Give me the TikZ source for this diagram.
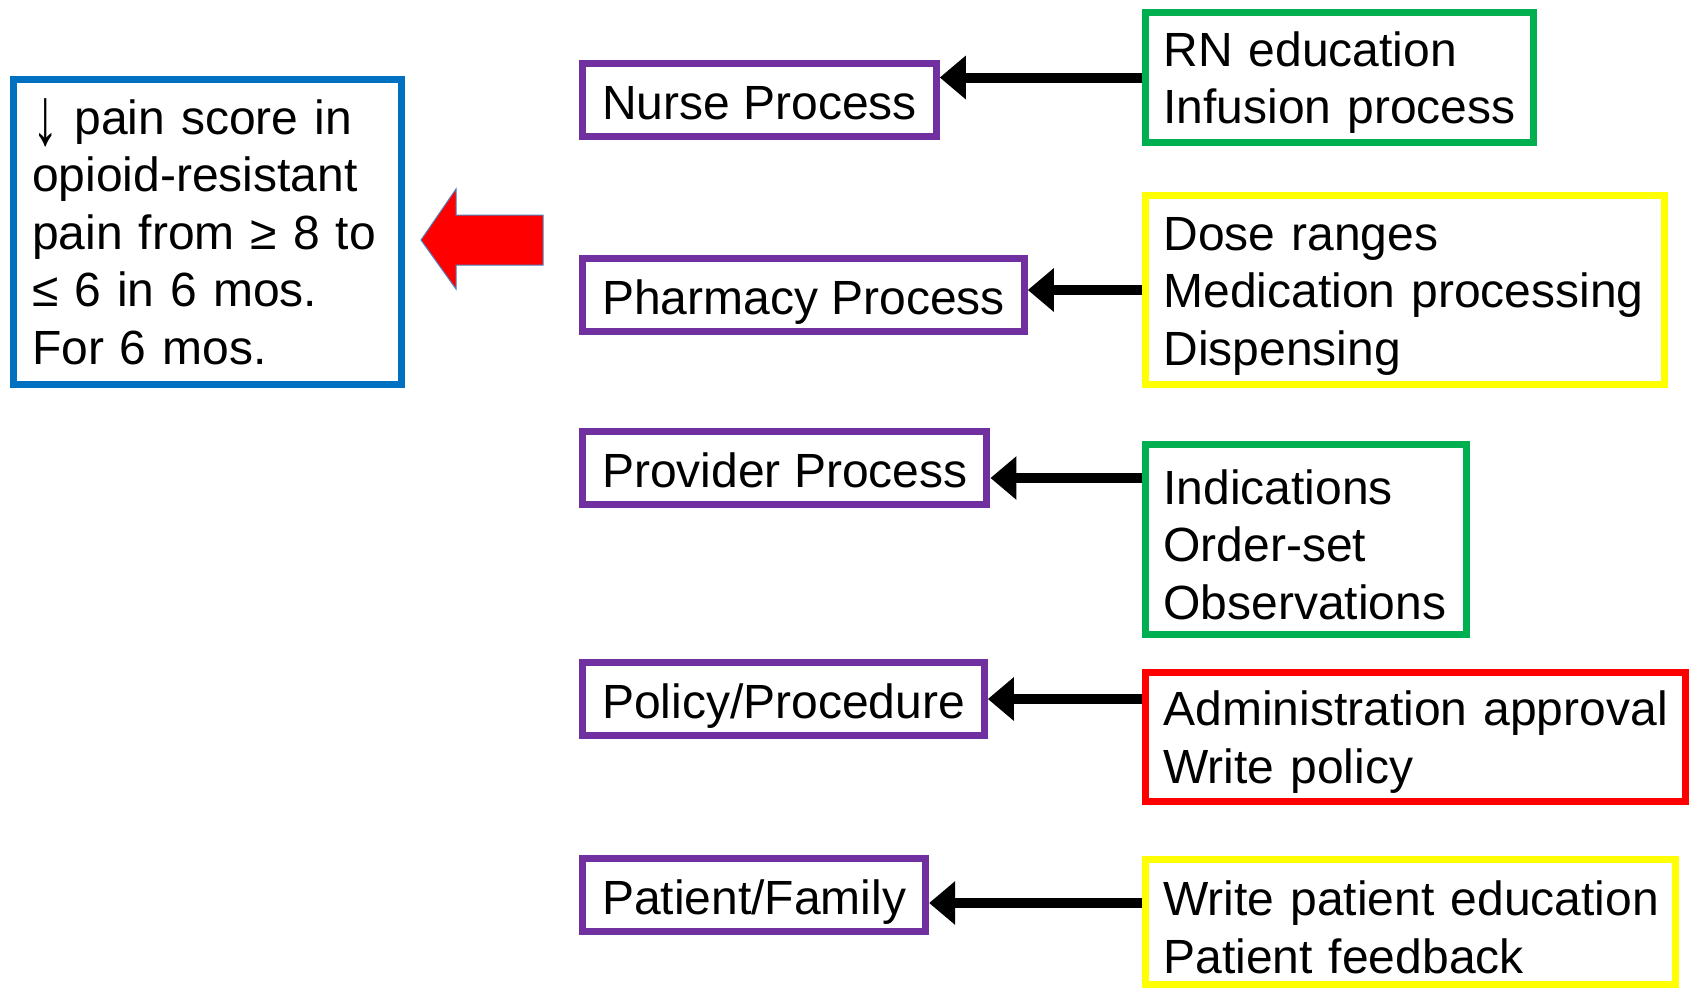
\documentclass[tikz,border=0pt]{standalone}
\usepackage{fontspec}
\usepackage{graphicx}
\setmainfont{Liberation Sans}
\usetikzlibrary{arrows.meta}
\definecolor{procpurple}{RGB}{112,48,160}
\definecolor{goalblue}{RGB}{0,112,192}
\definecolor{okgreen}{RGB}{0,176,80}
\definecolor{warnyellow}{RGB}{255,255,0}
\definecolor{stopred}{RGB}{255,0,0}
\definecolor{edgeblue}{RGB}{79,129,189}
\begin{document}
\begin{tikzpicture}[x=1pt, y=-1pt,
    every node/.style={font=\fontsize{48}{57.5}\selectfont},
    proc/.style={draw=procpurple, line width=7pt, anchor=west, inner xsep=19.5pt,
                 minimum height=73pt, text height=44pt, text depth=6pt},
    task/.style={line width=7pt, anchor=west, inner xsep=18pt, align=left, text height=45pt,
                 execute at begin node={\hyphenpenalty=10000\exhyphenpenalty=10000\hbadness=10000\hfuzz=20pt}},
    arr/.style={-{Triangle[length=26pt,width=42pt]}, line width=10pt}]
\useasboundingbox (0,0) rectangle (1692,991);
% Draw goal box and its arrow
\node[draw=goalblue, line width=7pt, inner xsep=18.5pt, text width=351pt,
      minimum height=305pt, align=left] (goal) at (207.5,232)
      {\raisebox{-0.22em}{\scalebox{1.1}[1.7]{↓}} pain score in\\opioid-resistant\\pain from ≥ 8 to\\≤ 6 in 6 mos.\\For 6 mos.};
\filldraw[fill=stopred, draw=edgeblue, line width=1pt]
    (543,215) -- (456,215) -- (456,189) -- (421,240) -- (456,289) -- (456,265) -- (543,265) -- cycle;
% Draw process boxes
\node[proc] (nurse) at (579,100) {Nurse Process};
\node[proc] (pharm) at (579,295) {Pharmacy Process};
\node[proc] (prov) at (579,468) {Provider Process};
\node[proc] (policy) at (579,699) {Policy/Procedure};
\node[proc] (family) at (579,895) {Patient/Family};
% Draw task boxes
\node[task, draw=okgreen, text width=352pt, minimum height=130pt] (nursetask) at (1142,77.5)
    {RN~education\\Infusion~process};
\node[task, draw=warnyellow, text width=483pt, minimum height=189pt] (pharmtask) at (1142,290)
    {Dose~ranges\\Medication~processing\\Dispensing};
\node[task, draw=okgreen, text width=285pt, minimum height=190pt] (provtask) at (1142,539.5)
    {Indications\\Order-set\\Observations};
\node[task, draw=stopred, text width=504pt, minimum height=129pt] (policytask) at (1142,737)
    {Administration~approval\\Write~policy};
\node[task, draw=warnyellow, text width=494pt, minimum height=125pt] (familytask) at (1142,922)
    {Write~patient~education\\Patient~feedback};
% Draw arrows
\coordinate (provin) at ([yshift=-10pt]prov.east);
\coordinate (familyin) at ([yshift=-8pt]family.east);
\draw[arr] (nursetask.west) -- (nursetask.west -| nurse.east);
\draw[arr] (pharmtask.west) -- (pharmtask.west -| pharm.east);
\draw[arr] (provin -| provtask.west) -- (provin);
\draw[arr] (policy.east -| policytask.west) -- (policy.east);
\draw[arr] (familyin -| familytask.west) -- (familyin);
\end{tikzpicture}
\end{document}
